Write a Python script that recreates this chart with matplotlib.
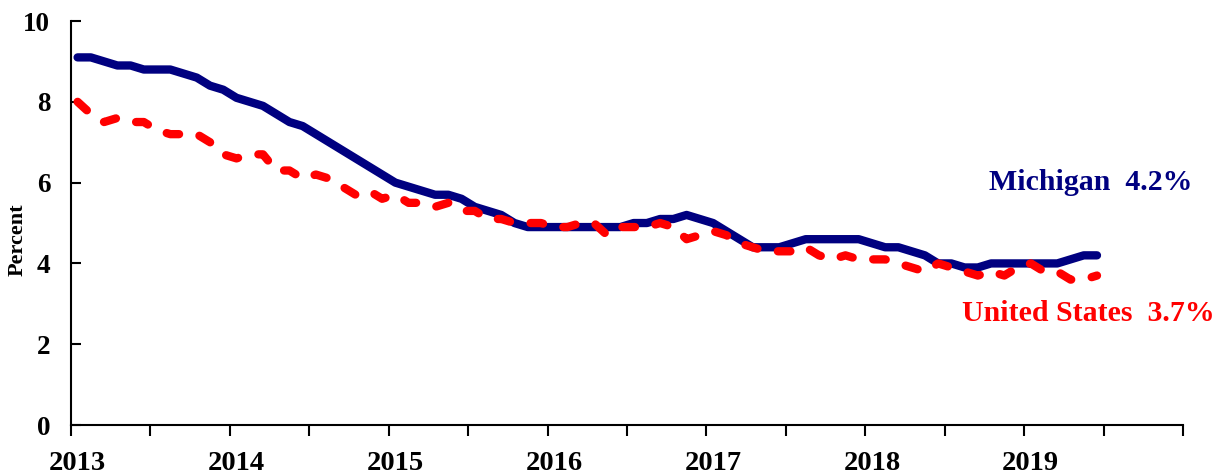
import numpy as np
import matplotlib
matplotlib.use("Agg")
from matplotlib import pyplot as plt

plt.rcParams['font.family'] = ['Liberation Serif', 'DejaVu Serif']
plt.rcParams['font.weight'] = 'bold'

# monthly unemployment rate, Jan 2013 - Jun 2019
michigan = [9.1, 9.1, 9.0, 8.9, 8.9, 8.8, 8.8, 8.8, 8.7, 8.6, 8.4, 8.3,
            8.1, 8.0, 7.9, 7.7, 7.5, 7.4, 7.2, 7.0, 6.8, 6.6, 6.4, 6.2,
            6.0, 5.9, 5.8, 5.7, 5.7, 5.6, 5.4, 5.3, 5.2, 5.0, 4.9, 4.9,
            4.9, 4.9, 4.9, 4.9, 4.9, 4.9, 5.0, 5.0, 5.1, 5.1, 5.2, 5.1,
            5.0, 4.8, 4.6, 4.4, 4.4, 4.4, 4.5, 4.6, 4.6, 4.6, 4.6, 4.6,
            4.5, 4.4, 4.4, 4.3, 4.2, 4.0, 4.0, 3.9, 3.9, 4.0, 4.0, 4.0,
            4.0, 4.0, 4.0, 4.1, 4.2, 4.2]
usa = [8.0, 7.7, 7.5, 7.6, 7.5, 7.5, 7.3, 7.2, 7.2, 7.2, 7.0, 6.7,
       6.6, 6.7, 6.7, 6.3, 6.3, 6.1, 6.2, 6.1, 5.9, 5.7, 5.8, 5.6,
       5.7, 5.5, 5.5, 5.4, 5.5, 5.3, 5.3, 5.1, 5.1, 5.0, 5.0, 5.0,
       4.9, 4.9, 5.0, 5.0, 4.7, 4.9, 4.9, 4.9, 5.0, 4.9, 4.6, 4.7,
       4.8, 4.7, 4.5, 4.4, 4.3, 4.3, 4.3, 4.4, 4.2, 4.1, 4.2, 4.1,
       4.1, 4.1, 4.0, 3.9, 3.8, 4.0, 3.9, 3.8, 3.7, 3.8, 3.7, 3.9,
       4.0, 3.8, 3.8, 3.6, 3.6, 3.7]
years = [2013, 2014, 2015, 2016, 2017, 2018, 2019]
yticks = [0, 2, 4, 6, 8, 10]

# points sit in the middle of each month
t = 2013 + (np.arange(len(michigan)) + 0.5) / 12

fig = plt.figure(figsize=(12.2, 4.76), dpi=100)
ax = fig.add_axes([0.0582, 0.1071, 0.9115, 0.8487])

ax.plot(t, michigan, color='#000080', lw=6, solid_capstyle='round', solid_joinstyle='round')
ax.plot(t, usa, color='#FF0000', lw=6, linestyle=(0, (1.5, 2.5)),
        dash_capstyle='round', dash_joinstyle='round')

ax.set_xlim(2013, 2020)
ax.set_ylim(0, 10)

# half-year tick marks, labels under january
ax.set_xticks(np.arange(2013, 2020.01, 0.5))
ax.set_xticklabels([])
ax.tick_params(axis='x', which='major', direction='out', length=8, width=1.5)
ax.set_xticks([y + 0.5 / 12 for y in years], minor=True)
ax.set_xticklabels([str(y) for y in years], minor=True, fontsize=20.5, fontweight='bold')
ax.tick_params(axis='x', which='minor', length=0, pad=19)

ax.set_yticks(yticks)
ax.set_yticklabels([str(v) for v in yticks], fontsize=19.5, fontweight='bold')
ax.tick_params(axis='y', direction='in', length=7, width=1.5, pad=15)

fig.text(18 / 1220, 0.496, 'Percent', rotation=90, fontsize=16, fontweight='bold',
         ha='center', va='center')

for s in ['top', 'right']:
    ax.spines[s].set_visible(False)
for s in ['left', 'bottom']:
    ax.spines[s].set_linewidth(1.5)

ax.text(2018.78, 6.01, 'Michigan  4.2%', color='#000080', fontsize=21.5,
        fontweight='bold', ha='left', va='center')
ax.text(2018.61, 2.77, 'United States  3.7%', color='#FF0000', fontsize=21.5,
        fontweight='bold', ha='left', va='center')

fig.savefig('out.png', dpi=100)
